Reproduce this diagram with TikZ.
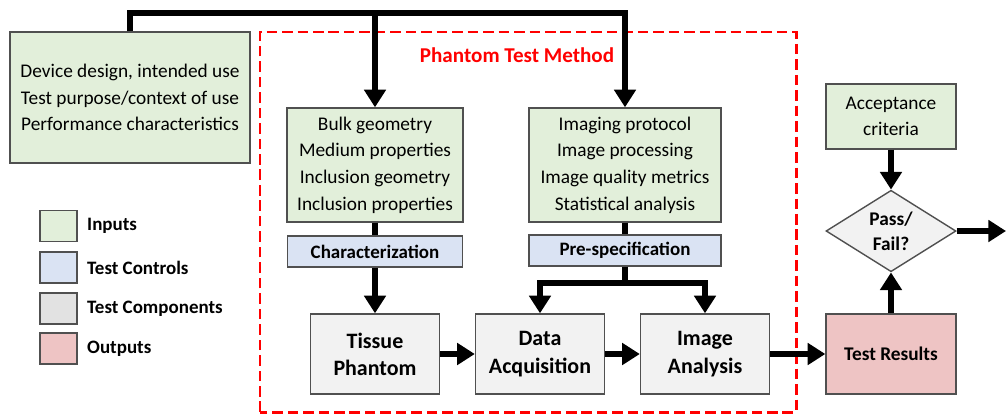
\documentclass[tikz,border=0pt]{standalone}
\usepackage{fontspec}
\setmainfont{Carlito}
\usepackage{tikz}
\usetikzlibrary{positioning,arrows.meta,shapes.geometric}
\definecolor{ptGreen}{RGB}{226,239,218}
\definecolor{ptBlue}{RGB}{218,227,243}
\definecolor{ptGray}{RGB}{242,242,242}
\definecolor{ptGrayDark}{RGB}{226,226,226}
\definecolor{ptPink}{RGB}{238,196,196}
\definecolor{ptEdge}{RGB}{80,80,80}
\definecolor{ptRed}{RGB}{255,0,0}
\tikzset{
    base/.style={align=center, text=black},
    input/.style={base, rectangle, draw=ptEdge, thick, fill=ptGreen,
                  font=\fontsize{11}{15.2}\selectfont},
    control/.style={base, rectangle, draw=ptEdge, thick, fill=ptBlue,
                    font=\fontsize{10.8}{12}\selectfont\bfseries,
                    minimum height=0.62cm},
    component/.style={base, rectangle, draw=ptEdge, thick, fill=ptGray,
                      font=\fontsize{12.5}{15.5}\selectfont\bfseries,
                      minimum width=2.58cm, minimum height=1.6cm},
    output/.style={component, fill=ptPink, font=\fontsize{11}{13}\selectfont\bfseries},
    decision/.style={base, diamond, draw=ptEdge, thick, fill=ptGray, inner sep=0pt,
                     minimum width=2.6cm, minimum height=1.52cm,
                     font=\fontsize{11}{14}\selectfont\bfseries},
    swatch/.style={rectangle, draw=ptEdge, thick, minimum width=0.74cm, minimum height=0.62cm},
    key/.style={anchor=west, font=\fontsize{10.8}{12}\selectfont\bfseries},
    pipe/.style={line width=3.3pt, color=black, line join=miter},
    flow/.style={pipe, -{Triangle[width=12pt,length=10pt]}},
    method/.style={draw=ptRed, line width=1.7pt, dash pattern=on 6pt off 2.8pt}
}

\begin{document}
\begin{tikzpicture}
  \useasboundingbox (0,0) rectangle (20.12,8.3);

  % Test method frame
  \draw[method] (5.2,0.06) rectangle (15.92,7.66);
  \node[text=ptRed, font=\fontsize{12}{14}\selectfont\bfseries] (title) at (10.34,7.2) {Phantom Test Method};

  % Inputs
  \node[input, minimum width=4.8cm, minimum height=2.62cm] (device) at (2.6,6.35)
    {Device design, intended use\\Test purpose/context of use\\Performance characteristics};
  \node[input, minimum width=3.52cm, minimum height=2.28cm] (bulk) at (7.5,5.0)
    {Bulk geometry\\Medium properties\\Inclusion geometry\\Inclusion properties};
  \node[input, minimum width=3.84cm, minimum height=2.28cm] (imaging) at (12.5,5.0)
    {Imaging protocol\\Image processing\\Image quality metrics\\Statistical analysis};
  \node[input, minimum width=2.6cm, minimum height=1.3cm] (accept) at (17.82,5.97)
    {Acceptance\\criteria};

  % Test controls
  \node[control, minimum width=3.5cm] (charact) at (7.5,3.27) {Characterization};
  \node[control, minimum width=3.84cm] (prespec) at (12.5,3.29) {Pre-specification};

  % Test components and outputs
  \node[component] (phantom) at (7.5,1.22) {Tissue\\Phantom};
  \node[component] (acq) at (10.8,1.22) {Data\\Acquisition};
  \node[component] (analysis) at (14.1,1.22) {Image\\Analysis};
  \node[output, minimum width=2.6cm] (results) at (17.82,1.22) {Test Results};
  \node[decision] (passfail) at (17.82,3.68) {Pass/\\Fail?};
  \coordinate (exit) at (20.12,3.68);

  % Connectors
  \coordinate (split) at (7.5,8.04);
  \draw[flow] (device.north) |- (split) -| (imaging.north);
  \draw[flow] (split) -- (bulk.north);
  \draw[pipe] (bulk.south) -- (charact.north);
  \draw[flow] (charact.south) -- (phantom.north);
  \draw[pipe] (imaging.south) -- (prespec.north);
  \draw[flow] (prespec.south) -- ++(0,-0.33) -| (acq.north);
  \draw[flow] (prespec.south) -- ++(0,-0.33) -| (analysis.north);
  \draw[flow] (phantom) -- (acq);
  \draw[flow] (acq) -- (analysis);
  \draw[flow] (analysis) -- (results);
  \draw[flow] (results) -- (passfail);
  \draw[flow] (accept) -- (passfail);
  \draw[flow] (passfail) -- (exit);

  % Legend
  \node[swatch, fill=ptGreen] (sw1) at (1.17,3.78) {};
  \node[swatch, fill=ptBlue] (sw2) at (1.17,2.95) {};
  \node[swatch, fill=ptGrayDark] (sw3) at (1.17,2.13) {};
  \node[swatch, fill=ptPink] (sw4) at (1.17,1.33) {};
  \node[key] (k1) at (1.62,3.78) {Inputs};
  \node[key] (k2) at (1.62,2.95) {Test Controls};
  \node[key] (k3) at (1.62,2.13) {Test Components};
  \node[key] (k4) at (1.62,1.33) {Outputs};
\end{tikzpicture}
\end{document}
